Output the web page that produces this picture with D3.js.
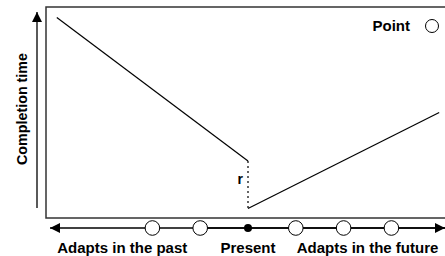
<!DOCTYPE html>
<html><head><meta charset="utf-8">
<script src="https://cdn.jsdelivr.net/npm/d3@7"></script>
<style>body{margin:0;background:#fff}svg{display:block}text{font-family:"Liberation Sans",Arial,sans-serif;font-weight:bold;fill:#000}</style>
</head><body>
<svg id="c" width="445" height="256"></svg>
<script>
// Data
const pastPoints = [-2, -1];
const presentPoint = [0];
const futurePoints = [1, 2, 3];
const leftSegment = [[-4, 95], [0, 27]];
const rightSegment = [[0, 4.5], [4, 50]];
const gap = [[0, 27], [0, 4.5]];
const axisLabels = [["Adapts in the past", -2.63], ["Present", 0], ["Adapts in the future", 2.5]];
const yTitle = "Completion time";
const legendLabel = "Point";
const gapLabel = "r";

const svg = d3.select("#c");
const x = d3.scaleLinear().domain([0, 1]).range([248, 295.8]);
const y = d3.scaleLinear().domain([0, 100]).range([218, 7]);

const defs = svg.append("defs");
defs.append("marker").attr("id","ah").attr("viewBox","0 0 10 10").attr("refX",10).attr("refY",5)
  .attr("markerWidth",10).attr("markerHeight",10).attr("markerUnits","userSpaceOnUse").attr("orient","auto-start-reverse")
  .append("path").attr("d","M0,0L10,5L0,10Z").attr("fill","#000");

// plot box
svg.append("rect").attr("x",46).attr("y",7).attr("width",420).attr("height",211)
  .attr("fill","none").attr("stroke","#333").attr("stroke-width",1.5);

// y arrow
svg.append("line").attr("x1",37).attr("x2",37).attr("y1",208).attr("y2",12)
  .attr("stroke","#000").attr("stroke-width",1.3).attr("marker-end","url(#ah)");
svg.append("text").attr("transform","translate(27,109) rotate(-90)").attr("text-anchor","middle")
  .attr("font-size",14.3).text(yTitle);

// x timeline
const ay = 228;
svg.append("line").attr("x1",445).attr("x2",50).attr("y1",ay).attr("y2",ay)
  .attr("stroke","#000").attr("stroke-width",1.3).attr("marker-end","url(#ah)");
svg.append("line").attr("x1",200).attr("x2",445).attr("y1",ay).attr("y2",ay)
  .attr("stroke","#000").attr("stroke-width",1.3).attr("marker-end","url(#ah)");

svg.selectAll("circle.open").data(pastPoints.concat(futurePoints)).join("circle").attr("class","open")
  .attr("cx",d=>x(d)).attr("cy",ay).attr("r",7.3).attr("fill","#fff").attr("stroke","#000").attr("stroke-width",1);
svg.selectAll("circle.pres").data(presentPoint).join("circle").attr("class","pres")
  .attr("cx",d=>x(d)).attr("cy",ay).attr("r",4).attr("fill","#000");

svg.selectAll("text.al").data(axisLabels).join("text").attr("class","al")
  .attr("x",d=>x(d[1])).attr("y",253).attr("text-anchor","middle").attr("font-size",15).text(d=>d[0]);

// lines
const line = d3.line().x(d=>x(d[0])).y(d=>y(d[1]));
svg.append("path").attr("d",line(leftSegment)).attr("fill","none").attr("stroke","#000").attr("stroke-width",1.2);
svg.append("path").attr("d",line(rightSegment)).attr("fill","none").attr("stroke","#000").attr("stroke-width",1.2);
svg.append("path").attr("d",line(gap)).attr("fill","none").attr("stroke","#000").attr("stroke-width",1.2).attr("stroke-dasharray","2,3");
svg.append("text").attr("x",x(0)-5).attr("y",184).attr("text-anchor","end").attr("font-size",14).text(gapLabel);

// legend
svg.append("text").attr("x",410).attr("y",31).attr("text-anchor","end").attr("font-size",15).text(legendLabel);
svg.append("circle").attr("cx",432).attr("cy",26).attr("r",6.5).attr("fill","#fff").attr("stroke","#000").attr("stroke-width",1);
</script>
</body></html>
